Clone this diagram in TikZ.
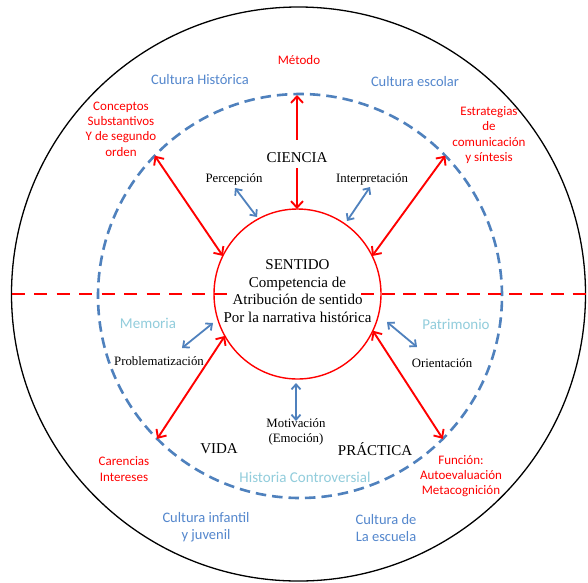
\documentclass[tikz,border=0pt]{standalone}
\usepackage{fontspec}
\setmainfont{Liberation Serif}
\newfontfamily\calib{Carlito}
\usetikzlibrary{arrows.meta,shapes.geometric}
\definecolor{myred}{RGB}{255,0,0}
\definecolor{myblue}{RGB}{79,129,189}
\definecolor{lblue}{RGB}{146,205,220}
\definecolor{tblue}{RGB}{84,135,205}
\begin{document}
\begin{tikzpicture}[x=1pt,y=-1pt,
 redtip/.tip={Straight Barb[length=6.5pt,width=12pt]},
 bluetip/.tip={Straight Barb[length=5pt,width=9pt]},
 redarrow/.style={draw=myred, line width=1.9pt, arrows={redtip-redtip}},
 redhalf/.style={draw=myred, line width=1.9pt, arrows={-redtip}},
 bluearrow/.style={draw=myblue, line width=1.8pt, arrows={bluetip-bluetip}},
 reddash/.style={draw=myred, line width=2.2pt},
 sanslbl/.style={font=\calib\fontsize{13}{15.3}\selectfont, align=center, inner sep=0pt},
 redlbl/.style={sanslbl, text=myred},
 bluelbl/.style={font=\calib\fontsize{14.5}{17}\selectfont, align=center, inner sep=0pt, text=tblue},
 lbluelbl/.style={font=\calib\fontsize{15}{17}\selectfont, align=center, inner sep=0pt, text=lblue},
 serifsm/.style={font=\fontsize{12.8}{15}\selectfont, align=center, inner sep=0pt},
 serifbig/.style={font=\fontsize{15}{17.7}\selectfont, align=center, inner sep=0pt},
]
\fill[white] (0,0) rectangle (588,582);
\useasboundingbox (0,0) rectangle (588,582);

% circles
\node[circle, draw=black, line width=1.3pt, minimum size=574pt, inner sep=0pt, outer sep=0pt] (outer) at (298.5,294) {};
\node[circle, draw=myblue, line width=2.6pt, dash pattern=on 10.5pt off 6pt, minimum size=404pt, inner sep=0pt, outer sep=0pt] (mid) at (300,296) {};
\node[ellipse, draw=myred, line width=1.4pt, minimum width=167pt, minimum height=170pt, inner sep=0pt, outer sep=0pt] (sentido) at (297.5,294) {};

% horizontal red dashed line
\coordinate (hlend) at (227,294);
\coordinate (hrstart) at (361,294);
\draw[reddash, dash pattern=on 13pt off 9.5pt] (outer.west) -- (hlend);
\draw[reddash, dash pattern=on 13pt off 8.15pt] (hrstart) -- (outer.east);

% centre text
\node[serifbig] (centro) at (297.5,291) {SENTIDO\\Competencia de\\Atribución de sentido\\Por la narrativa histórica};

% serif labels
\node[serifbig, text height=22pt, text depth=6pt] (ciencia) at (297,154) {CIENCIA};
\node[serifbig] (vida) at (219,449) {VIDA};
\node[serifbig] (practica) at (375,449) {PRÁCTICA};
\node[serifsm] (percepcion) at (234,179) {Percepción};
\node[serifsm] (interpretacion) at (372,179) {Interpretación};
\node[serifsm] (problem) at (159,361) {Problematización};
\node[serifsm] (orientacion) at (442,363) {Orientación};
\node[serifsm] (motivacion) at (296,432) {Motivación\\(Emoción)};

% red labels
\node[redlbl] (metodo) at (299,60) {Método};
\node[redlbl] (conceptos) at (121,129) {Conceptos\\Substantivos\\Y de segundo\\orden};
\node[redlbl] (estrategias) at (489,135) {Estrategias\\de\\comunicación\\y síntesis};
\node[redlbl] (carencias) at (124,469) {Carencias\\Intereses};
\node[redlbl] (funcion) at (461,476) {Función:\\Autoevaluación\\Metacognición};

% blue labels
\node[bluelbl] (culthist) at (200,80) {Cultura Histórica};
\node[bluelbl] (cultesc) at (415,82) {Cultura escolar};
\node[bluelbl] (cultinf) at (206,527) {Cultura infantil\\y juvenil};
\node[bluelbl] (cultescuela) at (386,528) {Cultura de\\La escuela};

% light blue labels
\node[lbluelbl] (memoria) at (148,323) {Memoria};
\node[lbluelbl] (patrimonio) at (456,324) {Patrimonio};
\node[lbluelbl] (historia) at (305,477) {Historia Controversial};

% red arrows
\coordinate (mtop) at (297,95);
\coordinate (mbot) at (297,209);
\draw[redhalf] (ciencia.north) -- (mtop);
\draw[redhalf] (ciencia.south) -- (mbot);
\draw[redarrow] (mid.136) -- (sentido.153);
\draw[redarrow] (mid.44) -- (sentido.27);
\draw[redarrow] (sentido.210) -- (mid.225);
\draw[redarrow] (sentido.334) -- (mid.315);

% blue arrows
\coordinate (percA) at (235,188);
\coordinate (percB) at (257,217);
\coordinate (intA) at (370,187);
\coordinate (intB) at (347,221);
\coordinate (probA) at (213,323);
\coordinate (probB) at (182,348);
\coordinate (oriA) at (387,322);
\coordinate (oriB) at (417,347);
\coordinate (motA) at (296,383);
\coordinate (motB) at (296,421);
\draw[bluearrow] (percA) -- (percB);
\draw[bluearrow] (intA) -- (intB);
\draw[bluearrow] (probA) -- (probB);
\draw[bluearrow] (oriA) -- (oriB);
\draw[bluearrow] (motA) -- (motB);
\end{tikzpicture}
\end{document}
